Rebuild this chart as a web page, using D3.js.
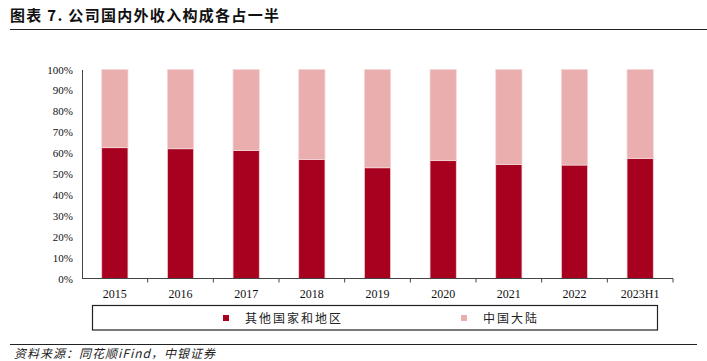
<!DOCTYPE html>
<html>
<head>
<meta charset="utf-8">
<script src="https://cdn.jsdelivr.net/npm/d3@7"></script>
<style>
  body { margin: 0; background: #fff; }
  svg { display: block; }
</style>
</head>
<body>
<svg id="chart" width="707" height="361"></svg>
<script>
// 数据
const years = ["2015", "2016", "2017", "2018", "2019", "2020", "2021", "2022", "2023H1"];
const overseas = [62.6, 62.1, 61.2, 57.0, 53.0, 56.4, 54.6, 54.3, 57.5]; // 其他国家和地区
const mainland = overseas.map(v => 100 - v);                             // 中国大陆
const seriesNames = ["其他国家和地区", "中国大陆"];
const yTicks = [0, 10, 20, 30, 40, 50, 60, 70, 80, 90, 100];

const colors = ["#A8001F", "#E9AEAD"];
const cjk = "'Noto Sans CJK SC', sans-serif";
const serif = "'Liberation Serif', 'Times New Roman', serif";

const svg = d3.select("#chart");

// 标题
svg.append("text")
  .attr("x", 10).attr("y", 21)
  .attr("font-family", cjk).attr("font-weight", "bold")
  .attr("font-size", 15).attr("fill", "#111")
  .attr("letter-spacing", 1.3)
  .text("图表 7. 公司国内外收入构成各占一半");
svg.append("line")
  .attr("x1", 10).attr("x2", 707).attr("y1", 29.5).attr("y2", 29.5)
  .attr("stroke", "#222").attr("stroke-width", 1.2);

// 坐标
const x = d3.scaleBand().domain(years).range([82, 673]).paddingInner(0.6).paddingOuter(0.3);
const y = d3.scaleLinear().domain([0, 100]).range([278.5, 69.5]);

const stacked = d3.stack().keys([0, 1])(years.map((yr, i) => ({ yr, 0: overseas[i], 1: mainland[i] })));

svg.append("g")
  .selectAll("g")
  .data(stacked)
  .join("g")
  .attr("fill", (d, i) => colors[i])
  .selectAll("rect")
  .data(d => d)
  .join("rect")
  .attr("x", d => x(d.data.yr))
  .attr("width", x.bandwidth())
  .attr("y", d => y(d[1]))
  .attr("height", d => y(d[0]) - y(d[1]))
  .attr("stroke", "#F4D6D6")
  .attr("stroke-width", 0.8);

// y 轴
const yAxis = svg.append("g")
  .attr("transform", "translate(82,0)")
  .call(d3.axisLeft(y).tickValues(yTicks).tickFormat(d => d + "%").tickSize(0).tickPadding(9));
yAxis.attr("font-family", serif).attr("font-size", 11);
yAxis.select(".domain").attr("stroke", "#444");
yAxis.selectAll("text").style("font-family", serif).attr("fill", "#111");

// x 轴
const xg = svg.append("g").attr("transform", "translate(0,278.5)");
xg.append("line").attr("x1", 82).attr("x2", 673).attr("stroke", "#444");
const bounds = d3.range(1, years.length + 1).map(i => 82 + i * (591 / years.length));
xg.selectAll("line.tk").data(bounds).join("line").attr("class", "tk")
  .attr("x1", d => d).attr("x2", d => d).attr("y1", 0).attr("y2", 4).attr("stroke", "#444");
xg.selectAll("text").data(years).join("text")
  .attr("x", d => x(d) + x.bandwidth() / 2).attr("y", 19)
  .attr("text-anchor", "middle")
  .style("font-family", serif).attr("font-size", 12).attr("fill", "#111")
  .text(d => d);

// 图例
svg.append("rect")
  .attr("x", 92.5).attr("y", 305.5).attr("width", 565).attr("height", 24.5)
  .attr("fill", "none").attr("stroke", "#222").attr("stroke-width", 1.2);
const legendX = [223, 461];
const lg = svg.append("g").selectAll("g").data(seriesNames).join("g")
  .attr("transform", (d, i) => `translate(${legendX[i]},318)`);
lg.append("rect").attr("x", 0).attr("y", -3).attr("width", 6).attr("height", 6)
  .attr("fill", (d, i) => colors[i]);
lg.append("text").attr("x", 22).attr("y", 4.5)
  .attr("font-family", cjk).attr("font-size", 12).attr("fill", "#222")
  .attr("letter-spacing", 2)
  .text(d => d);

// 资料来源
svg.append("line")
  .attr("x1", 10).attr("x2", 697).attr("y1", 344.5).attr("y2", 344.5)
  .attr("stroke", "#222").attr("stroke-width", 1);
svg.append("text")
  .attr("x", 14).attr("y", 358)
  .attr("font-family", cjk).attr("font-style", "italic")
  .attr("font-size", 12).attr("fill", "#222")
  .attr("letter-spacing", 1)
  .text("资料来源：同花顺iFind，中银证券");
</script>
</body>
</html>
